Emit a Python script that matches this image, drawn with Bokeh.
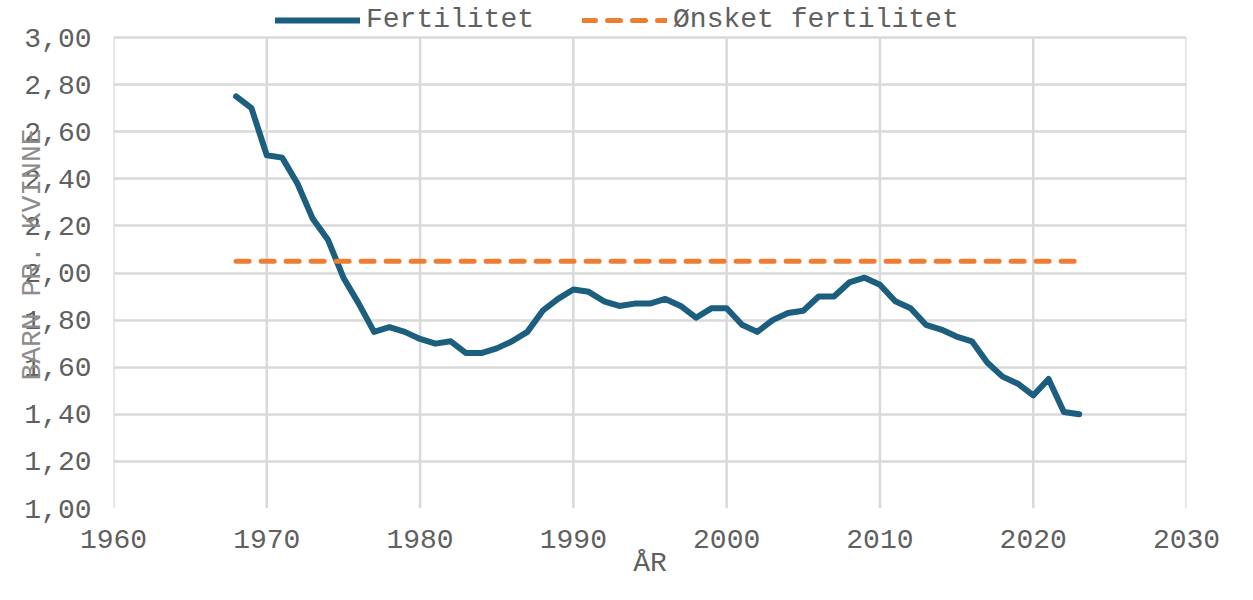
from bokeh.plotting import figure
from bokeh.embed import file_html
from bokeh.resources import INLINE
from bokeh.models import (ColumnDataSource, FixedTicker, CustomJSTickFormatter,
                          Legend, LegendItem, Range1d)

# ---- data ----
years = list(range(1968, 2024))
fertility = [2.75, 2.70, 2.50, 2.49, 2.38, 2.23, 2.14, 1.98, 1.87, 1.75,
             1.77, 1.75, 1.72, 1.70, 1.71, 1.66, 1.66, 1.68, 1.71, 1.75,
             1.84, 1.89, 1.93, 1.92, 1.88, 1.86, 1.87, 1.87, 1.89, 1.86,
             1.81, 1.85, 1.85, 1.78, 1.75, 1.80, 1.83, 1.84, 1.90, 1.90,
             1.96, 1.98, 1.95, 1.88, 1.85, 1.78, 1.76, 1.73, 1.71, 1.62,
             1.56, 1.53, 1.48, 1.55, 1.41, 1.40]
desired = [2.05] * len(years)
x_ticks = [1960, 1970, 1980, 1990, 2000, 2010, 2020, 2030]
y_ticks = [1.0, 1.2, 1.4, 1.6, 1.8, 2.0, 2.2, 2.4, 2.6, 2.8, 3.0]
series_names = ["Fertilitet", "Ønsket fertilitet"]
x_label = "ÅR"
y_label = "BARN PR. KVINNE"

FONT = "Liberation Mono"
TXT = "#606060"
BLUE = "#1b5e7e"
ORANGE = "#ed7d31"
GRID = "#d9d9d9"

src = ColumnDataSource(dict(year=years, fert=fertility, want=desired))

# frame extends above the top tick to leave room for the legend inside it
y_top = y_ticks[-1] + 37 / 235.5

p = figure(width=1237, height=584, output_backend="svg", toolbar_location=None,
           x_range=Range1d(x_ticks[0], x_ticks[-1]), y_range=Range1d(y_ticks[0], y_top),
           min_border_left=113, min_border_right=51, min_border_top=0,
           min_border_bottom=76)
p.outline_line_color = None
p.background_fill_color = "white"

# vertical grid lines limited to the tick span
p.segment(x0=x_ticks, x1=x_ticks, y0=[y_ticks[0]] * len(x_ticks),
          y1=[y_ticks[-1]] * len(x_ticks), line_color=GRID, line_width=2.5)

r1 = p.line("year", "fert", source=src, line_color=BLUE, line_width=6,
            line_join="round", line_cap="round")
r2 = p.line("year", "want", source=src, line_color=ORANGE, line_width=5,
            line_dash="13 12", line_cap="round")

for ax in (p.xaxis[0], p.yaxis[0]):
    ax.axis_line_color = None
    ax.major_tick_line_color = None
    ax.minor_tick_line_color = None
    ax.major_label_text_font = FONT
    ax.major_label_text_font_size = "28px"
    ax.major_label_text_color = TXT
    ax.axis_label_text_font = FONT
    ax.axis_label_text_font_size = "28px"
    ax.axis_label_text_font_style = "normal"

p.xaxis.ticker = FixedTicker(ticks=x_ticks)
p.yaxis.ticker = FixedTicker(ticks=y_ticks)
p.yaxis.formatter = CustomJSTickFormatter(code="return tick.toFixed(2).replace('.', ',');")
p.xaxis.major_label_standoff = 15
p.yaxis.major_label_standoff = 16

p.xaxis.axis_label = x_label
p.xaxis.axis_label_text_color = TXT
p.xaxis.axis_label_standoff = -3

p.yaxis.axis_label = y_label
p.yaxis.axis_label_text_color = "#8c8c8c"
p.yaxis.axis_label_standoff = -27

p.xgrid.visible = False
p.ygrid.ticker = FixedTicker(ticks=y_ticks)
p.ygrid.grid_line_color = GRID
p.ygrid.grid_line_width = 2.5

legend = Legend(items=[LegendItem(label=series_names[0], renderers=[r1]),
                       LegendItem(label=series_names[1], renderers=[r2])],
                orientation="horizontal", location=(162, 473),
                label_text_font=FONT, label_text_font_size="28px",
                label_text_color=TXT, glyph_width=85, glyph_height=26,
                label_standoff=6, spacing=48, padding=0, margin=0,
                border_line_color=None, background_fill_alpha=0)
p.add_layout(legend)

open("out.html", "w").write(file_html(p, INLINE))
